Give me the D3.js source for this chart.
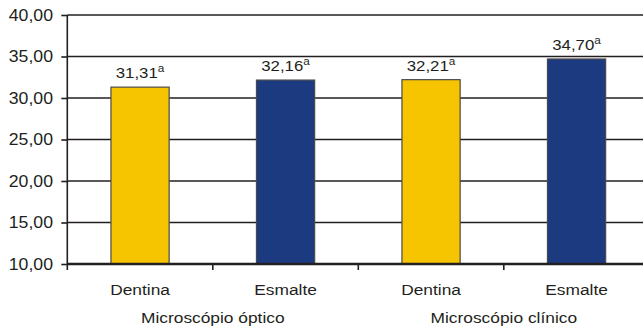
<!DOCTYPE html>
<html>
<head>
<meta charset="utf-8">
<script src="https://cdn.jsdelivr.net/npm/d3@7"></script>
<style>
  html, body { margin: 0; padding: 0; background: #fff; }
  svg { display: block; }
  text { font-family: "Liberation Sans", Arial, sans-serif; fill: #231f20; }
</style>
</head>
<body>
<svg id="chart" width="643" height="330"></svg>
<script>
// Bar categories, their groups and the measured values
const categories = ["Dentina", "Esmalte", "Dentina", "Esmalte"];
const groups = ["Microscópio óptico", "Microscópio clínico"];
const values = [31.31, 32.16, 32.21, 34.70];
const valueLabels = ["31,31", "32,16", "32,21", "34,70"];
const letters = ["a", "a", "a", "a"];
const yTicks = [10, 15, 20, 25, 30, 35, 40];

const colors = ["#f7c400", "#1b3a80", "#f7c400", "#1b3a80"];
const ink = "#231f20";
const stretch = 1.12; // horizontal widening of the lettering

const svg = d3.select("#chart");
const plotLeft = 67.3, plotRight = 649.3, plotTop = 15, plotBottom = 264;

const x = d3.scaleBand().domain(d3.range(categories.length)).range([plotLeft, plotRight]).padding(0);
const y = d3.scaleLinear().domain([10, 40]).range([plotBottom, plotTop]);
const barW = x.bandwidth() * 0.4;

// Adds text widened horizontally around its anchor point
function label(sel, tx, ty, anchor, size) {
  return sel.append("text")
    .attr("transform", `translate(${tx},${ty}) scale(${stretch},1)`)
    .attr("text-anchor", anchor)
    .attr("font-size", size);
}

// Horizontal gridlines
svg.append("g").selectAll("line").data(yTicks.filter(d => d > 10)).join("line")
  .attr("x1", plotLeft).attr("x2", plotRight)
  .attr("y1", d => y(d)).attr("y2", d => y(d))
  .attr("stroke", ink).attr("stroke-width", 1.6);

// Bars
svg.append("g").selectAll("rect").data(values).join("rect")
  .attr("x", (d, i) => x(i) + (x.bandwidth() - barW) / 2)
  .attr("width", barW)
  .attr("y", d => y(d))
  .attr("height", d => y(10) - y(d))
  .attr("fill", (d, i) => colors[i])
  .attr("stroke", "#4a4a4a").attr("stroke-width", 1.2);

// Y axis
const yAxis = svg.append("g").attr("transform", `translate(${plotLeft},0)`)
  .call(d3.axisLeft(y).tickValues(yTicks).tickSize(6).tickFormat(""));
yAxis.select(".domain").remove();
yAxis.selectAll(".tick line").attr("stroke", ink).attr("stroke-width", 1.6);
svg.append("line").attr("x1", plotLeft).attr("x2", plotLeft).attr("y1", plotTop).attr("y2", plotBottom + 6)
  .attr("stroke", ink).attr("stroke-width", 1.6);
yTicks.forEach(t => {
  label(svg, 53, y(t) + 5.5, "end", 15.8).text(d3.format(".2f")(t).replace(".", ","));
});

// X axis baseline and category separators
svg.append("line").attr("x1", plotLeft).attr("x2", plotRight).attr("y1", plotBottom).attr("y2", plotBottom)
  .attr("stroke", ink).attr("stroke-width", 2.6);
svg.append("g").selectAll("line").data(d3.range(1, categories.length)).join("line")
  .attr("x1", i => x(i)).attr("x2", i => x(i))
  .attr("y1", plotBottom).attr("y2", plotBottom + 6)
  .attr("stroke", ink).attr("stroke-width", 1.6);

// Category labels
categories.forEach((c, i) => {
  label(svg, x(i) + x.bandwidth() / 2, 295, "middle", 15.5).text(c);
});

// Group labels, centred under each pair of bars
groups.forEach((g, k) => {
  label(svg, x(2 * k + 1), 323, "middle", 15.5).text(g);
});

// Value labels with superscript letters
values.forEach((v, i) => {
  const t = label(svg, x(i) + x.bandwidth() / 2, y(v) - 9, "middle", 15);
  t.append("tspan").text(valueLabels[i]);
  t.append("tspan").attr("font-size", 10.5).attr("dy", -6).text(letters[i]);
});
</script>
</body>
</html>
